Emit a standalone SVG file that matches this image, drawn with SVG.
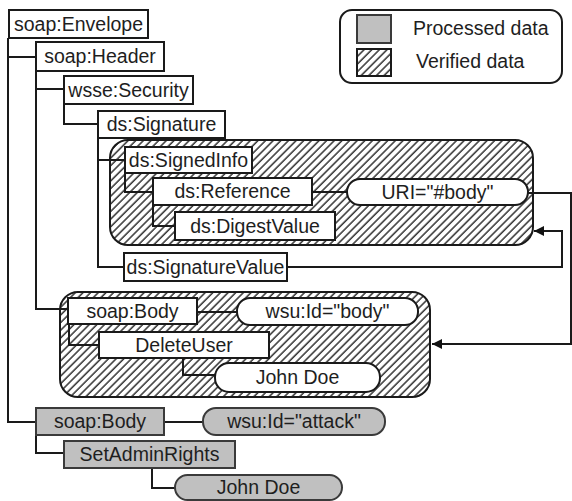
<svg xmlns="http://www.w3.org/2000/svg" width="572" height="501" viewBox="0 0 572 501">
<defs>
<pattern id="hatch" patternUnits="userSpaceOnUse" width="5.4" height="10" patternTransform="rotate(45)">
<rect width="5.4" height="10" fill="#fff"/>
<line x1="1" y1="0" x2="1" y2="10" stroke="#111" stroke-width="1.3"/>
</pattern>
<marker id="arr" viewBox="0 0 10 10" refX="10" refY="5" markerWidth="11" markerHeight="10" markerUnits="userSpaceOnUse" orient="auto">
<path d="M0,0 L10,5 L0,10 z" fill="#111"/>
</marker>
<style>
.box{fill:#fff;stroke:#1a1a1a;stroke-width:2}
.gray{fill:#c0c0c0;stroke:#3a3a3a;stroke-width:2}
.hatch{fill:url(#hatch);stroke:#1a1a1a;stroke-width:2}
.t{font-family:"Liberation Sans",Arial,sans-serif;font-size:19.5px;fill:#1e1e1e;text-anchor:middle}
.tl{font-family:"Liberation Sans",Arial,sans-serif;font-size:19.5px;fill:#1e1e1e}
.c{fill:none;stroke:#1a1a1a;stroke-width:2}
</style>
</defs>
<rect width="572" height="501" fill="#fff"/>

<g id="legend">
<rect x="340" y="10" width="222" height="73" rx="12" class="box"/>
<rect x="357" y="15" width="34" height="28" class="gray"/>
<rect x="357" y="49" width="34" height="27" class="hatch"/>
<text x="413" y="35" class="tl">Processed data</text>
<text x="416" y="68" class="tl">Verified data</text>
</g>

<g id="verified-signedinfo"><rect x="110" y="140" width="423" height="105" rx="18" class="hatch"/></g>
<g id="verified-body"><rect x="60" y="292" width="370" height="105" rx="18" class="hatch"/></g>

<g id="connectors">
<polyline points="8,38 8,422 36,422" class="c"/>
<line x1="8" y1="57" x2="36" y2="57" class="c"/>
<polyline points="36,71 36,309 68,309" class="c"/>
<line x1="36" y1="89" x2="64" y2="89" class="c"/>
<polyline points="64,104 64,124 98,124" class="c"/>
<polyline points="98,138 98,267 124,267" class="c"/>
<line x1="98" y1="160" x2="125" y2="160" class="c"/>
<polyline points="125,173 125,192 153,192" class="c"/>
<polyline points="153,205 153,226 175,226" class="c"/>
<line x1="312" y1="192" x2="347" y2="192" class="c"/>
<polyline points="528,193 571,193 571,344 432,344" class="c" marker-end="url(#arr)"/>
<polyline points="287,267 562,267 562,231 534,231" class="c" marker-end="url(#arr)"/>
<line x1="197" y1="312" x2="237" y2="312" class="c"/>
<polyline points="69,324 69,345 99,345" class="c"/>
<polyline points="183,358 183,375 215,375" class="c"/>
<line x1="164" y1="422" x2="203" y2="422" class="c"/>
<polyline points="36,435 36,453 64,453" class="c"/>
<polyline points="152,468 152,488 175,488" class="c"/>
</g>

<g id="soap-envelope"><rect x="9" y="10" width="139" height="28" class="box"/><text x="78.5" y="31" class="t">soap:Envelope</text></g>
<g id="soap-header"><rect x="36" y="42" width="128" height="29" class="box"/><text x="100" y="63" class="t">soap:Header</text></g>
<g id="wsse-security"><rect x="64" y="76" width="129" height="28" class="box"/><text x="128.5" y="97" class="t">wsse:Security</text></g>
<g id="ds-signature"><rect x="98" y="111" width="127" height="27" class="box"/><text x="161.5" y="131" class="t">ds:Signature</text></g>
<g id="ds-signedinfo"><rect x="125" y="147" width="127" height="26" class="box"/><text x="188.5" y="167" class="t">ds:SignedInfo</text></g>
<g id="ds-reference"><rect x="153" y="178" width="159" height="27" class="box"/><text x="232.5" y="198" class="t">ds:Reference</text></g>
<g id="ds-digestvalue"><rect x="175" y="212" width="160" height="28" class="box"/><text x="255" y="233" class="t">ds:DigestValue</text></g>
<g id="uri-body"><rect x="347" y="179" width="181" height="26" rx="13" class="box"/><text x="437.5" y="199" class="t">URI="#body"</text></g>
<g id="ds-signaturevalue"><rect x="124" y="253" width="163" height="28" class="box"/><text x="205.5" y="274" class="t">ds:SignatureValue</text></g>
<g id="soap-body"><rect x="68" y="298" width="129" height="26" class="box"/><text x="132.5" y="318" class="t">soap:Body</text></g>
<g id="wsu-id-body"><rect x="237" y="298" width="181" height="27" rx="13" class="box"/><text x="327.5" y="318" class="t">wsu:Id="body"</text></g>
<g id="deleteuser"><rect x="99" y="332" width="170" height="26" class="box"/><text x="184" y="352" class="t">DeleteUser</text></g>
<g id="john-doe-1"><rect x="215" y="363" width="165" height="29" rx="14" class="box"/><text x="297.5" y="384" class="t">John Doe</text></g>
<g id="soap-body-attack"><rect x="36" y="408" width="128" height="27" class="gray"/><text x="100" y="428" class="t">soap:Body</text></g>
<g id="wsu-id-attack"><rect x="203" y="408" width="182" height="27" rx="13" class="gray"/><text x="294" y="428" class="t">wsu:Id="attack"</text></g>
<g id="setadminrights"><rect x="64" y="441" width="171" height="27" class="gray"/><text x="149.5" y="461" class="t">SetAdminRights</text></g>
<g id="john-doe-2"><rect x="175" y="475" width="167" height="25" rx="12.5" class="gray"/><text x="258.5" y="494" class="t">John Doe</text></g>
</svg>
